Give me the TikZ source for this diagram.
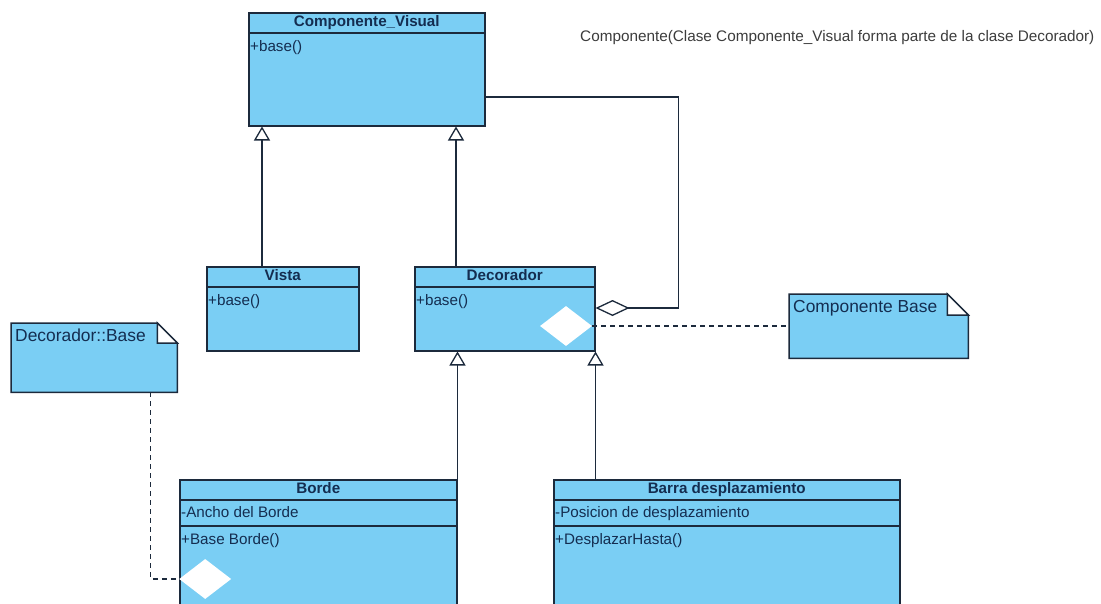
\documentclass[tikz,border=0pt]{standalone}
\usepackage{fontspec}
\setmainfont{Liberation Sans}
\usetikzlibrary{arrows.meta,shapes.geometric,positioning}

\definecolor{azulclase}{RGB}{122,206,244}
\definecolor{bordeclase}{RGB}{28,42,60}
\definecolor{textoclase}{RGB}{20,45,80}
\definecolor{textogris}{RGB}{60,60,60}

\tikzset{
    clase/.style={draw=bordeclase, line width=1.5pt, fill=azulclase, inner sep=0pt},
    nota/.style={inner sep=0pt},
    cab/.style={font=\fontsize{15.2}{18}\selectfont\bfseries, text=textoclase,
        inner sep=3pt, text height=11pt, text depth=3pt},
    miembro/.style={font=\fontsize{15.2}{18}\selectfont, text=textoclase,
        inner sep=2pt, text height=11pt, text depth=3pt},
    notatexto/.style={font=\fontsize{17.4}{20}\selectfont, text=textoclase, inner sep=2pt},
    divisor/.style={draw=bordeclase, line width=1.5pt},
    hereda/.style={draw=bordeclase, line width=1.3pt,
        -{Triangle[open, length=14pt, width=16pt, fill=white]}},
    agrega/.style={draw=bordeclase, line width=1.3pt,
        {Diamond[open, length=34pt, width=16pt, fill=white]}-},
    punteada/.style={draw=bordeclase, line width=1.3pt, dash pattern=on 5pt off 4pt},
    rombo/.style={diamond, fill=white, inner sep=0pt, minimum width=52pt, minimum height=40pt}
}

\begin{document}
\begin{tikzpicture}[x=1pt, y=-1pt]

    \useasboundingbox (0,0) rectangle (1101,603);
    \clip (0,0) rectangle (1101,603);

    % === LEYENDA ===
    \node[anchor=west, inner sep=0pt, text=textogris, font=\fontsize{15.3}{18}\selectfont]
        (leyenda) at (580,38) {Componente(Clase Componente\_Visual forma parte de la clase Decorador)};

    % === CLASES ===
    % Componente_Visual
    \node[clase, anchor=north west, minimum width=236pt, minimum height=113pt] (visual) at (248,12) {};
    \draw[divisor] (248,33) -- (484,33);
    \node[cab, anchor=north] at (visual.north) {Componente\_Visual};
    \node[miembro, anchor=north west] at (248,38) {+base()};

    % Vista
    \node[clase, anchor=north west, minimum width=152pt, minimum height=84pt] (vista) at (206,266) {};
    \draw[divisor] (206,287) -- (358,287);
    \node[cab, anchor=north] at (vista.north) {Vista};
    \node[miembro, anchor=north west] at (206,292) {+base()};

    % Decorador
    \node[clase, anchor=north west, minimum width=180pt, minimum height=84pt] (decorador) at (414,266) {};
    \draw[divisor] (414,287) -- (594,287);
    \node[cab, anchor=north] at (decorador.north) {Decorador};
    \node[miembro, anchor=north west] at (414,292) {+base()};
    \node[rombo] (rdeco) at (566,326) {};

    % Borde
    \node[clase, anchor=north west, minimum width=277pt, minimum height=140pt] (borde) at (179,479) {};
    \draw[divisor] (179,500) -- (456,500);
    \draw[divisor] (179,526) -- (456,526);
    \node[cab, anchor=north] at (borde.north) {Borde};
    \node[miembro, anchor=north west] at (179,504) {-Ancho del Borde};
    \node[miembro, anchor=north west] at (179,531) {+Base Borde()};
    \node[rombo, anchor=west] (rborde) at ([yshift=-100pt]borde.north west) {};

    % Barra desplazamiento
    \node[clase, anchor=north west, minimum width=346pt, minimum height=140pt] (barra) at (553,479) {};
    \draw[divisor] (553,500) -- (899,500);
    \draw[divisor] (553,526) -- (899,526);
    \node[cab, anchor=north] at (barra.north) {Barra desplazamiento};
    \node[miembro, anchor=north west] at (553,504) {-Posicion de desplazamiento};
    \node[miembro, anchor=north west] at (553,531) {+DesplazarHasta()};

    % === NOTAS ===
    % Decorador::Base
    \node[nota, anchor=north west, minimum width=166pt, minimum height=69pt] (notadeco) at (11,323) {};
    \fill[azulclase, draw=bordeclase, line width=1.5pt]
        (notadeco.north west) -- ([xshift=-20pt]notadeco.north east) --
        ([yshift=-20pt]notadeco.north east) -- (notadeco.south east) --
        (notadeco.south west) -- cycle;
    \draw[bordeclase, line width=1.5pt, fill=white]
        ([xshift=-20pt]notadeco.north east) -- ([xshift=-20pt,yshift=-20pt]notadeco.north east) --
        ([yshift=-20pt]notadeco.north east) -- cycle;
    \node[notatexto, anchor=north west] at ([xshift=2pt,yshift=-4pt]notadeco.north west) {Decorador::Base};

    % Componente Base
    \node[nota, anchor=north west, minimum width=179pt, minimum height=64pt] (notabase) at (789,294) {};
    \fill[azulclase, draw=bordeclase, line width=1.5pt]
        (notabase.north west) -- ([xshift=-21pt]notabase.north east) --
        ([yshift=-21pt]notabase.north east) -- (notabase.south east) --
        (notabase.south west) -- cycle;
    \draw[bordeclase, line width=1.5pt, fill=white]
        ([xshift=-21pt]notabase.north east) -- ([xshift=-21pt,yshift=-21pt]notabase.north east) --
        ([yshift=-21pt]notabase.north east) -- cycle;
    \node[notatexto, anchor=north west] at ([xshift=2pt,yshift=-4pt]notabase.north west) {Componente Base};

    % === CONECTORES ===
    \coordinate (pvista) at ([xshift=56pt]vista.north west);
    \coordinate (pdeco) at ([xshift=42pt]decorador.north west);
    \coordinate (pborde) at (borde.north east);
    \coordinate (pagr) at ([yshift=-42pt]decorador.north east);
    \coordinate (pvis) at ([yshift=-85pt]visual.north east);
    \coordinate (pnota) at ([xshift=-27pt]notadeco.south east);

    \draw[hereda] (pvista) -- (pvista |- visual.south);
    \draw[hereda] (pdeco) -- (pdeco |- visual.south);
    \draw[hereda] (pborde) -- (pborde |- decorador.south);
    \draw[hereda] (barra.north west -| decorador.east) -- (decorador.south east);

    \draw[agrega] (pagr) -- ++(83,0) |- (pvis);

    \draw[punteada] (rdeco.east) -- (rdeco.east -| notabase.west);
    \draw[punteada] (pnota) |- (rborde.west);

\end{tikzpicture}
\end{document}
